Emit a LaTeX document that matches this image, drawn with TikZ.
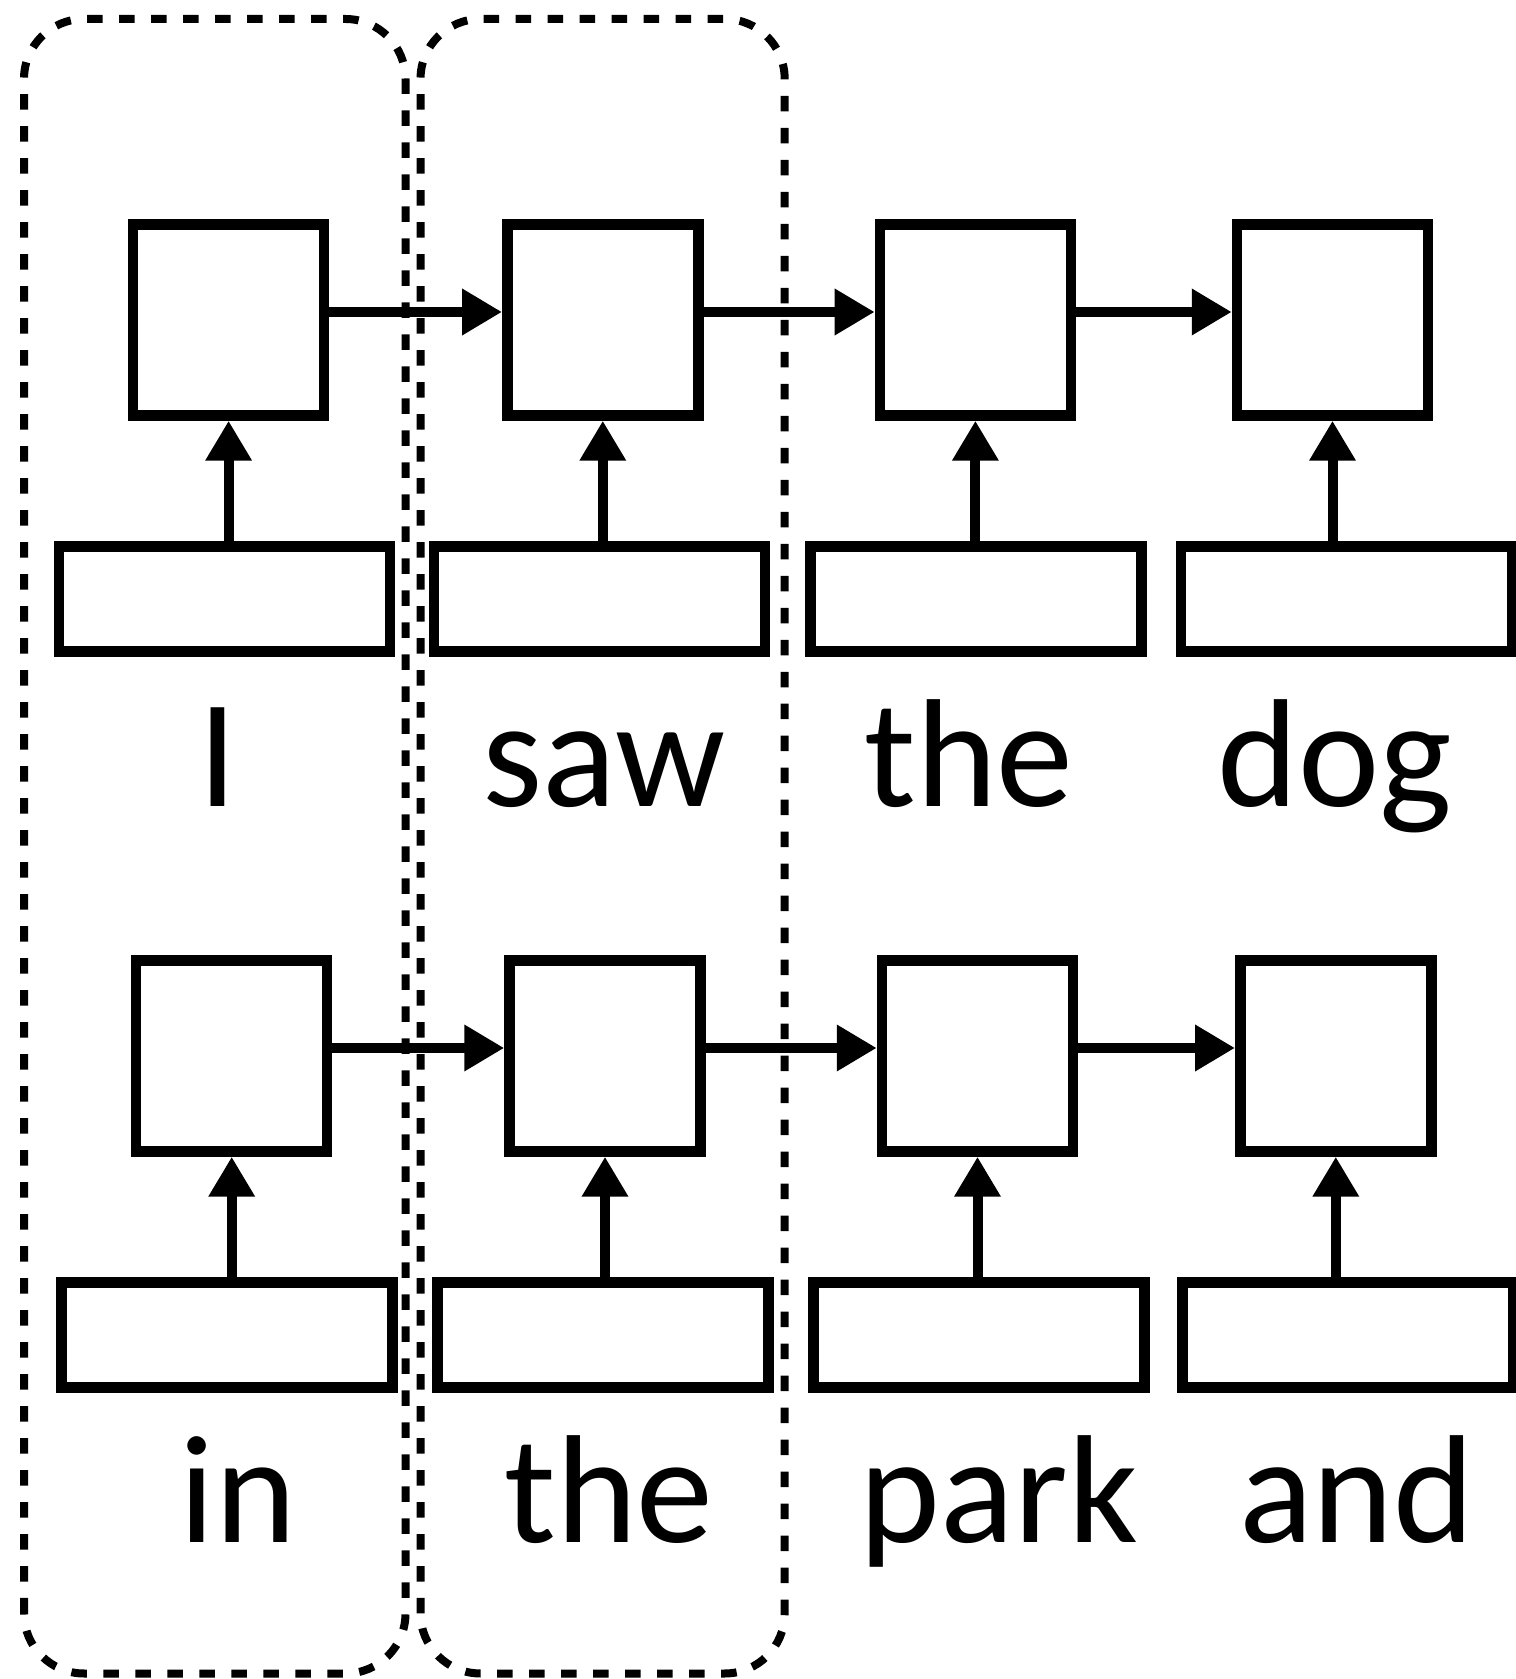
\documentclass[tikz,border=0pt]{standalone}
\usepackage{fontspec}
\setmainfont{Carlito}
\usepackage{tikz}
\usetikzlibrary{arrows.meta}
\definecolor{ink}{HTML}{000000}
\definecolor{paper}{HTML}{FFFFFF}
\tikzset{
  cellBox/.style={draw=ink, fill=paper, line width=0.105cm, minimum size=1.91cm, inner sep=0pt},
  embBox/.style={draw=ink, fill=paper, line width=0.105cm, minimum width=3.31cm, minimum height=1.05cm, inner sep=0pt},
  wordLbl/.style={text=ink, font=\fontsize{43.8}{52}\selectfont, anchor=base, inner sep=0pt},
  flowArr/.style={draw=ink, line width=0.1cm, -{Triangle[length=0.4cm, width=0.44cm]}},
  groupBox/.style={draw=ink, line width=0.08cm, rounded corners=0.6cm, dash pattern=on 0.155cm off 0.165cm},
}
% one column: cell, embedding box under it, word under that
\newcommand{\TokenCol}[6]{%
  \node[cellBox] (h#1) at (#2,#5) {};
  \node[embBox]  (e#1) at (#3,#5-2.79) {};
  \node[wordLbl] (w#1) at (#4,#5-4.87) {#6};
  \draw[flowArr] (e#1.north -| h#1.south) -- (h#1.south);
}

\begin{document}
\begin{tikzpicture}
  \useasboundingbox (0,0) rectangle (15.16,16.79);

  % grouped columns
  \draw[groupBox] (0.24,0.055) rectangle (4.055,16.60);
  \draw[groupBox] (4.205,0.055) rectangle (7.847,16.60);

  \TokenCol{1}{2.286}{2.243}{2.18}{13.59}{I}
  \TokenCol{2}{6.028}{5.996}{6.04}{13.59}{saw}
  \TokenCol{3}{9.754}{9.759}{9.69}{13.59}{the}
  \TokenCol{4}{13.325}{13.465}{13.35}{13.59}{dog}

  \TokenCol{5}{2.317}{2.27}{2.38}{6.23}{in}
  \TokenCol{6}{6.05}{6.03}{6.09}{6.23}{the}
  \TokenCol{7}{9.775}{9.79}{9.99}{6.23}{park}
  \TokenCol{8}{13.358}{13.48}{13.57}{6.23}{and}

  \draw[flowArr] ([yshift=0.08cm]h1.east) -- ([yshift=0.08cm]h2.west);
  \draw[flowArr] ([yshift=0.08cm]h2.east) -- ([yshift=0.08cm]h3.west);
  \draw[flowArr] ([yshift=0.08cm]h3.east) -- ([yshift=0.08cm]h4.west);

  \draw[flowArr] ([yshift=0.08cm]h5.east) -- ([yshift=0.08cm]h6.west);
  \draw[flowArr] ([yshift=0.08cm]h6.east) -- ([yshift=0.08cm]h7.west);
  \draw[flowArr] ([yshift=0.08cm]h7.east) -- ([yshift=0.08cm]h8.west);
\end{tikzpicture}
\end{document}
